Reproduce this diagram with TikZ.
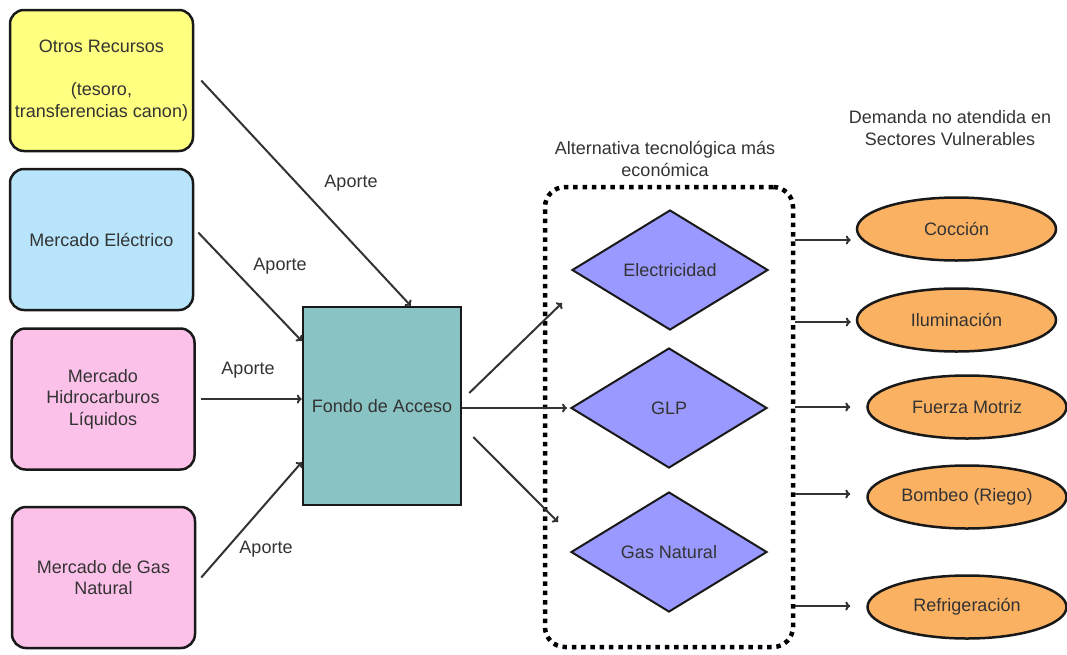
\documentclass[tikz,border=0pt]{standalone}
\usepackage{fontspec}
\setmainfont{Liberation Sans}
\usetikzlibrary{shapes.geometric,arrows.meta}
\definecolor{amarillo}{RGB}{255,255,128}
\definecolor{celeste}{RGB}{184,229,251}
\definecolor{rosa}{RGB}{251,193,233}
\definecolor{verdeazul}{RGB}{138,195,195}
\definecolor{lila}{RGB}{153,153,255}
\definecolor{naranja}{RGB}{251,177,98}
\definecolor{texto}{RGB}{51,51,51}
\begin{document}
\begin{tikzpicture}[x=1pt, y=-1pt,
    every node/.style={font=\fontsize{18}{21.5}\selectfont, text=texto, align=center, inner sep=1pt},
    fuente/.style={draw=black!90, line width=2.5pt, rounded corners=14pt, minimum width=183pt, minimum height=141pt},
    rombo/.style={diamond, draw=black!90, line width=2pt, fill=lila, minimum width=196pt, minimum height=120pt},
    elipse/.style={ellipse, draw=black!90, line width=2.5pt, fill=naranja, minimum width=199pt, minimum height=63pt},
    flecha/.style={draw=texto, line width=2pt, -{To[length=5pt,width=9pt]}}]
    \useasboundingbox (0,0) rectangle (1067,654);
    % fuentes de aporte
    \node[fuente, fill=amarillo] (otros) at (101.5,80.5) {Otros Recursos\\[21.5pt](tesoro,\\transferencias canon)};
    \node[fuente, fill=celeste] (elec) at (101.5,239.5) {Mercado Eléctrico};
    \node[fuente, fill=rosa] (hidro) at (103,399) {Mercado\\Hidrocarburos\\Líquidos};
    \node[fuente, fill=rosa] (gas) at (103.5,577.5) {Mercado de Gas\\Natural};
    \node[draw=black!90, line width=2.5pt, fill=verdeazul, minimum width=158pt, minimum height=198pt] (fondo) at (382,406) {Fondo de Acceso};
    \node (ap1) at (351,183) {Aporte};
    \node (ap2) at (280,266) {Aporte};
    \node (ap3) at (248,370) {Aporte};
    \node (ap4) at (266,549) {Aporte};
    \draw[flecha] ([xshift=7pt]otros.east) -- (fondo.74);
    \draw[flecha] ([xshift=4pt,yshift=7pt]elec.east) -- (fondo.141);
    \draw[flecha] ([xshift=5pt]hidro.east) -- (hidro.east -| fondo.west);
    \draw[flecha] ([xshift=5pt]gas.east) -- (fondo.215);
    % alternativas
    \node (titalt) at (665,159) {Alternativa tecnológica más\\económica};
    \node[draw=black, line width=4.5pt, dash pattern=on 4.5pt off 4.8pt, rounded corners=20pt, minimum width=248pt, minimum height=460pt] (caja) at (669,417) {};
    \node[rombo] (electr) at (670,270) {Electricidad};
    \node[rombo] (glp) at (669,408) {GLP};
    \node[rombo] (gasnat) at (669,552) {Gas Natural};
    \draw[flecha] ([xshift=7pt,yshift=13pt]fondo.east) -- ([xshift=-9pt,yshift=-33pt]electr.west);
    \draw[flecha, shorten >=3pt] (glp.west -| fondo.east) -- (glp.west);
    \draw[flecha] ([xshift=11pt,yshift=-31pt]fondo.east) -- ([xshift=-12pt,yshift=30pt]gasnat.west);
    % demanda
    \node (titdem) at (950,128) {Demanda no atendida en\\Sectores Vulnerables};
    \foreach \n/\t/\x/\y/\dx/\dy in {cocc/Cocción/956.5/229/-5/-11, ilum/Iluminación/956.5/320/-5/-2,
        fuerza/Fuerza Motriz/967/407/-16/0, bombeo/Bombeo (Riego)/967/497/-16/3, refri/Refrigeración/967/607/-16/1} {
        \node[elipse] (\n) at (\x,\y) {\t};
        \coordinate (a\n) at ([yshift=\dy pt]\n.west);
        \draw[flecha] (a\n -| caja.east) -- ([xshift=\dx pt]a\n);
    }
\end{tikzpicture}
\end{document}
